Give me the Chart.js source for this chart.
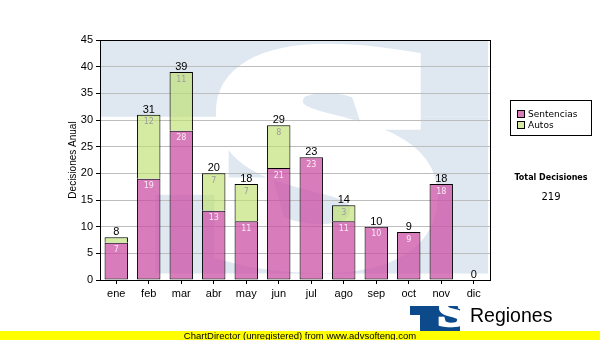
<!DOCTYPE html>
<html>
<head>
<meta charset="utf-8">
<script src="https://cdn.jsdelivr.net/npm/chart.js@4/dist/chart.umd.min.js"></script>
<style>
  html, body { margin: 0; padding: 0; background: #fff; }
  #wrap { width: 600px; height: 340px; position: relative; }
</style>
</head>
<body>
<div id="wrap"><canvas id="chart" width="600" height="340"></canvas></div>
<script>
// Monthly decisions, split by type
const months = ['ene', 'feb', 'mar', 'abr', 'may', 'jun', 'jul', 'ago', 'sep', 'oct', 'nov', 'dic'];
const sentencias = [7, 19, 28, 13, 11, 21, 23, 11, 10, 9, 18, 0];
const autos = [1, 12, 11, 7, 7, 8, 0, 3, 0, 0, 0, 0];
const seriesNames = ['Sentencias', 'Autos'];
const yAxisTitle = 'Decisiones Anual';
const totalTitle = 'Total Decisiones';
const footerText = 'ChartDirector (unregistered) from www.advsofteng.com';
const brandText = 'Regiones';

const monthTotals = months.map((m, i) => sentencias[i] + autos[i]);
const grandTotal = monthTotals.reduce((a, b) => a + b, 0);

const PINK = 'rgba(204, 80, 164, 0.75)';
const GREEN = 'rgba(190, 225, 110, 0.65)';
const SANS = '"Liberation Sans", Arial, sans-serif';
const DEJAVU = '"DejaVu Sans", Verdana, sans-serif';

// Draws a heavy "S" glyph stretched to fill a box
function drawFittedS(ctx, x0, y0, x1, y1, color, weight) {
  ctx.save();
  ctx.font = 'bold 200px "Liberation Serif", "DejaVu Serif", serif';
  const m = ctx.measureText('S');
  const lw = weight || 0;
  const gw = m.actualBoundingBoxLeft + m.actualBoundingBoxRight + lw;
  const gh = m.actualBoundingBoxAscent + m.actualBoundingBoxDescent + lw;
  const sx = (x1 - x0) / gw;
  const sy = (y1 - y0) / gh;
  ctx.translate(x0, y0);
  ctx.scale(sx, sy);
  ctx.fillStyle = color;
  ctx.strokeStyle = color;
  ctx.lineJoin = 'miter';
  ctx.textAlign = 'left';
  ctx.textBaseline = 'alphabetic';
  const tx = m.actualBoundingBoxLeft + lw / 2, ty = m.actualBoundingBoxAscent + lw / 2;
  ctx.fillText('S', tx, ty);
  if (lw > 0) { ctx.lineWidth = lw; ctx.strokeText('S', tx, ty); }
  ctx.restore();
}

// Background emblem inside the plot area
const emblemPlugin = {
  id: 'emblem',
  beforeDraw(chart) {
    const { ctx, chartArea: a } = chart;
    const W = a.right - a.left, H = a.bottom - a.top;
    const px = f => a.left + f * W;
    const py = f => a.top + f * H;
    ctx.save();
    ctx.fillStyle = '#dfe8f1';
    ctx.fillRect(px(0), py(0), px(0.995) - px(0), py(0.32) - py(0));
    ctx.fillRect(px(0.33), py(0.32), px(0.995) - px(0.33), py(0.65) - py(0.32));
    ctx.fillRect(px(0.142), py(0.645), px(0.995) - px(0.142), py(0.973) - py(0.645));
    drawFittedS(ctx, px(0.29), py(0.018), px(0.867), py(0.972), '#ffffff', 24);
    ctx.restore();
  }
};

// Plot frame, value labels, legend box, total and footer
const decorPlugin = {
  id: 'decor',
  afterDatasetsDraw(chart) {
    const { ctx } = chart;
    const m0 = chart.getDatasetMeta(0);
    const m1 = chart.getDatasetMeta(1);
    ctx.save();
    ctx.textAlign = 'center';
    months.forEach((m, i) => {
      const b0 = m0.data[i], b1 = m1.data[i];
      // segment labels
      const segs = [[b0, sentencias[i], '#fbeaf6'], [b1, autos[i], '#9c9c9c']];
      segs.forEach(([el, v, col]) => {
        const top = Math.min(el.y, el.base), h = Math.abs(el.base - el.y);
        if (v > 0 && h >= 12) {
          ctx.font = '8px ' + DEJAVU;
          ctx.fillStyle = col;
          ctx.textBaseline = 'middle';
          ctx.fillText(String(v), el.x, top + 7.5);
        }
      });
      // stacked total above the bar
      const topY = chart.scales.y.getPixelForValue(monthTotals[i]);
      ctx.font = '11px ' + SANS;
      ctx.fillStyle = '#000';
      ctx.textBaseline = 'alphabetic';
      ctx.fillText(String(monthTotals[i]), b0.x, topY - 2);
    });
    ctx.restore();
  },
  afterDraw(chart) {
    const { ctx, chartArea: a } = chart;
    ctx.save();
    // frame
    ctx.strokeStyle = '#000';
    ctx.lineWidth = 1;
    ctx.strokeRect(Math.round(a.left) + 0.5, Math.round(a.top) + 0.5,
      Math.round(a.right - a.left), Math.round(a.bottom - a.top));

    // legend
    const lx = 510.5, ly = 100.5, lw = 81, lh = 35;
    ctx.fillStyle = '#fff';
    ctx.fillRect(lx, ly, lw, lh);
    ctx.strokeRect(lx, ly, lw, lh);
    chart.data.datasets.forEach((ds, k) => {
      const sy = 110.5 + k * 11;
      ctx.fillStyle = '#fff';
      ctx.fillRect(517.5, sy, 7, 7);
      ctx.fillStyle = ds.backgroundColor;
      ctx.fillRect(517.5, sy, 7, 7);
      ctx.strokeStyle = '#000';
      ctx.strokeRect(517.5, sy, 7, 7);
      ctx.fillStyle = '#000';
      ctx.font = '9px ' + DEJAVU;
      ctx.textAlign = 'left';
      ctx.textBaseline = 'middle';
      ctx.fillText(ds.label, 528, sy + 4);
    });

    // grand total
    ctx.textAlign = 'center';
    ctx.textBaseline = 'middle';
    ctx.fillStyle = '#000';
    ctx.font = 'bold 8px ' + DEJAVU;
    ctx.fillText(totalTitle, 551, 178);
    ctx.font = '10px ' + DEJAVU;
    ctx.fillText(String(grandTotal), 551, 197);

    // brand mark
    ctx.fillStyle = '#0d4a8c';
    ctx.fillRect(410, 306, 50, 34);
    ctx.fillStyle = '#fff';
    ctx.fillRect(410, 315, 10, 25);
    drawFittedS(ctx, 424, 309, 452, 337, '#fff', 14);
    ctx.fillStyle = '#000';
    ctx.font = '19.5px ' + SANS;
    ctx.textAlign = 'left';
    ctx.textBaseline = 'alphabetic';
    ctx.fillText(brandText, 470, 322);

    // footer band
    ctx.fillStyle = '#ffff00';
    ctx.fillRect(0, 331, 600, 9);
    ctx.fillStyle = '#000';
    ctx.font = '9.5px ' + SANS;
    ctx.textAlign = 'center';
    ctx.textBaseline = 'middle';
    ctx.fillText(footerText, 300, 336);
    ctx.restore();
  }
};

new Chart(document.getElementById('chart'), {
  type: 'bar',
  data: {
    labels: months,
    datasets: [
      { label: seriesNames[0], data: sentencias, backgroundColor: PINK, borderColor: '#000', borderWidth: 1, borderSkipped: false },
      { label: seriesNames[1], data: autos, backgroundColor: GREEN, borderColor: '#000', borderWidth: 1, borderSkipped: 'bottom' }
    ]
  },
  options: {
    responsive: false,
    animation: false,
    devicePixelRatio: 1,
    categoryPercentage: 1,
    barPercentage: 0.72,
    layout: { padding: { left: 0, top: 40, right: 110, bottom: 0 } },
    plugins: { legend: { display: false }, tooltip: { enabled: false } },
    scales: {
      x: {
        stacked: true,
        afterFit(s) { s.height = 60; },
        grid: { display: true, drawOnChartArea: false, offset: false, tickLength: 4, tickColor: '#000' },
        border: { display: true, color: '#000' },
        ticks: { color: '#000', font: { family: SANS, size: 11 }, padding: 3 }
      },
      y: {
        stacked: true,
        min: 0,
        max: 45,
        afterFit(s) { s.width = 100; },
        ticks: { stepSize: 5, color: '#000', font: { family: SANS, size: 11 }, padding: 3 },
        grid: { color: '#bdbdbd', tickColor: '#000', tickLength: 4 },
        border: { display: true, color: '#000' },
        title: { display: true, text: yAxisTitle, color: '#000', font: { family: SANS, size: 10 }, padding: { top: 67, bottom: 0 } }
      }
    }
  },
  plugins: [emblemPlugin, decorPlugin]
});
</script>
</body>
</html>
